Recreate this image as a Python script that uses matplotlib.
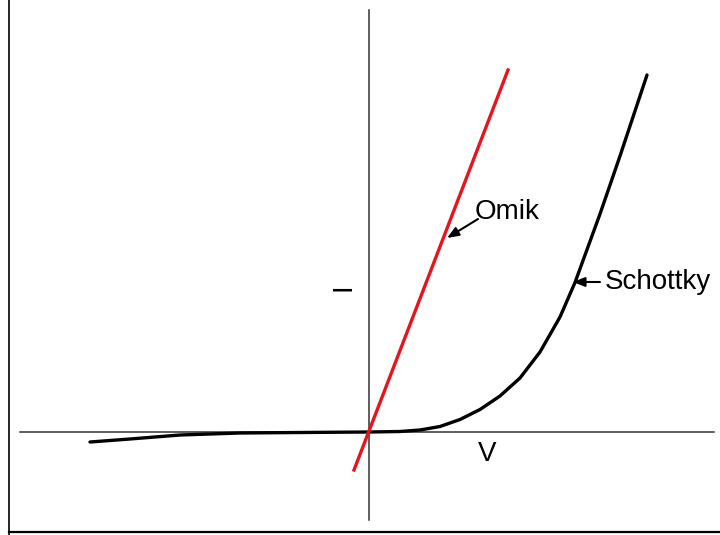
import matplotlib
matplotlib.use('Agg')
import matplotlib.pyplot as plt
from matplotlib.lines import Line2D

plt.rcParams['font.family'] = ['Liberation Sans', 'DejaVu Sans']

# I-V curves (arbitrary units)
ohmic_v = [-0.15, 1.39]
ohmic_i = [-0.38, 3.62]

schottky_v = [-2.79, -2.39, -1.89, -1.29, -0.69, 0.0, 0.31, 0.51, 0.71, 0.91,
              1.11, 1.31, 1.51, 1.71, 1.91, 2.06, 2.31, 2.51, 2.71, 2.78]
schottky_i = [-0.10, -0.07, -0.03, -0.01, -0.005, 0.0, 0.005, 0.02, 0.055, 0.125,
              0.225, 0.36, 0.54, 0.80, 1.15, 1.495, 2.18, 2.76, 3.36, 3.57]

fig = plt.figure(figsize=(7.2, 5.35), dpi=100)
ax = fig.add_axes([0, 0, 1, 1])
ax.set_xlim(-3.69, 3.51)
ax.set_ylim(-1.03, 4.32)
ax.axis('off')

# axes lines
ax.plot([-3.49, 3.45], [0, 0], color='#333333', lw=1.1)
ax.plot([0, 0], [-0.88, 4.22], color='#333333', lw=1.1)

ax.plot(schottky_v, schottky_i, color='black', lw=2.4,
        solid_capstyle='round', solid_joinstyle='round')
ax.plot(ohmic_v, ohmic_i, color='#e8141c', lw=2.4)

ax.text(-0.26, 1.45, 'I', rotation=90, fontsize=20, ha='center', va='center')
ax.text(1.18, -0.22, 'V', fontsize=20, ha='center', va='center')
ax.text(1.06, 2.20, 'Omik', fontsize=20, ha='left', va='center')
ax.text(2.36, 1.50, 'Schottky', fontsize=20, ha='left', va='center')

arrow = dict(arrowstyle='-|>,head_length=0.7,head_width=0.28', color='black', lw=1.5,
             shrinkA=0, shrinkB=0)
ax.annotate('', xy=(0.78, 1.94), xytext=(1.09, 2.13), arrowprops=arrow)
ax.annotate('', xy=(2.04, 1.50), xytext=(2.31, 1.50), arrowprops=arrow)

# frame at left and bottom
fig.add_artist(Line2D([9 / 720, 9 / 720], [0, 1], color='black', lw=1.2))
fig.add_artist(Line2D([9 / 720, 1], [3 / 535, 3 / 535], color='black', lw=1.6))

fig.savefig('out.png', dpi=100)
